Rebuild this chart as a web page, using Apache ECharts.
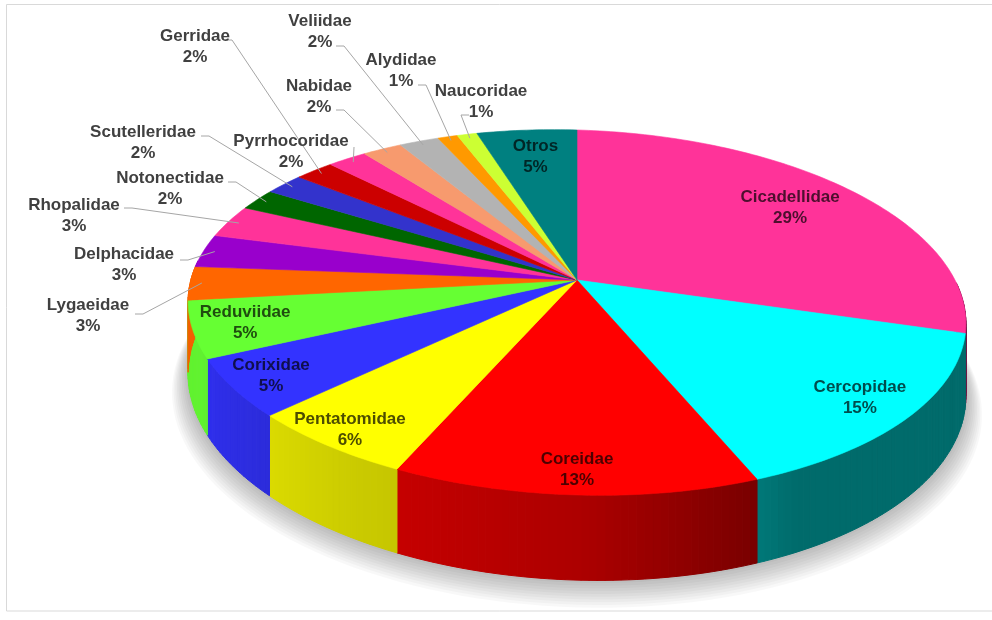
<!DOCTYPE html>
<html>
<head>
<meta charset="utf-8">
<script src="https://cdn.jsdelivr.net/npm/echarts@6/dist/echarts.min.js"></script>
<style>
  html, body { margin: 0; padding: 0; background: #ffffff; }
  #chart { width: 992px; height: 620px; }
</style>
</head>
<body>
<div id="chart"></div>
<script>
// Families of Hemiptera collected, share of the total (%)
const families = ['Cicadellidae', 'Cercopidae', 'Coreidae', 'Pentatomidae', 'Corixidae', 'Reduviidae',
  'Lygaeidae', 'Delphacidae', 'Rhopalidae', 'Notonectidae', 'Scutelleridae', 'Gerridae',
  'Pyrrhocoridae', 'Nabidae', 'Veliidae', 'Alydidae', 'Naucoridae', 'Otros'];
const shares = [29, 15, 13, 6, 5, 5, 3, 3, 3, 2, 2, 2, 2, 2, 2, 1, 1, 5];
const sliceColors = ['#FF3399', '#00FFFF', '#FF0000', '#FFFF00', '#3333FF', '#66FF33',
  '#FF6600', '#9900CC', '#FF3399', '#006600', '#3333CC', '#CC0000',
  '#FF3399', '#F79A6E', '#B3B3B3', '#FF9900', '#CCFF33', '#008080'];

// Labels drawn on the slice: radial position (fraction of the radius)
const insideLabelRadius = {
  Cicadellidae: 0.77, Cercopidae: 0.87, Coreidae: 0.9, Pentatomidae: 0.92,
  Corixidae: 0.9, Reduviidae: 0.87, Otros: 0.8
};
// Labels drawn outside the pie: label centre, leader start, short horizontal elbow
const outsideLabelLayout = {
  Lygaeidae:     { at: [88, 316],  from: [135, 314], dx: 8 },
  Delphacidae:   { at: [124, 265], from: [180, 260], dx: 8 },
  Rhopalidae:    { at: [74, 216],  from: [124, 208], dx: 8 },
  Notonectidae:  { at: [170, 189], from: [228, 182], dx: 8 },
  Scutelleridae: { at: [143, 143], from: [201, 136], dx: 8 },
  Gerridae:      { at: [195, 47],  from: [225, 40],  dx: 7 },
  Pyrrhocoridae: { at: [291, 152], from: [354, 147], dx: 0 },
  Nabidae:       { at: [319, 97],  from: [336, 110], dx: 8 },
  Veliidae:      { at: [320, 32],  from: [336, 46],  dx: 8 },
  Alydidae:      { at: [401, 71],  from: [418, 85],  dx: 8 },
  Naucoridae:    { at: [481, 102], from: [469, 115], dx: -8 }
};

// Projection of the tilted disc (perspective view from above, slight roll)
const pie = { cx: 577, cy: 280, rx: 382.7, ry: 176.7, persp: 0.178, tilt: 0.028, depth: 70 };
const total = shares.reduce((s, v) => s + v, 0);
const FONT = 'bold 17px "Liberation Sans", Arial, sans-serif';

function project(theta, r, down) {
  const u = r * Math.sin(theta);
  const v = -r * Math.cos(theta);
  const w = 1 - pie.persp * v;
  const x = pie.cx + pie.rx * u / w;
  let y = pie.cy + pie.ry * v / w + pie.tilt * (x - pie.cx);
  if (down) y += pie.depth / w;
  return [x, y];
}

function rgbOf(hex) {
  const n = parseInt(hex.slice(1), 16);
  return [(n >> 16) & 255, (n >> 8) & 255, n & 255];
}
function shade(hex, f) {
  const c = rgbOf(hex).map(ch => Math.max(0, Math.min(255, Math.round(ch * f))));
  return 'rgb(' + c.join(',') + ')';
}
// Side walls: lit from the front-left, falling off quickly towards the right
function wallFactor(theta) {
  const deg = theta * 180 / Math.PI;
  const f = deg >= 180 ? 0.68 + (deg - 180) * 0.004 : 0.68 - (180 - deg) * 0.009;
  return Math.max(0.42, Math.min(0.95, f));
}

function renderSlice(params, api) {
  const i = params.dataIndex;
  const value = api.value(0);
  let before = 0;
  for (let k = 0; k < i; k++) before += shares[k];
  const a0 = before / total * Math.PI * 2;
  const a1 = (before + value) / total * Math.PI * 2;
  const color = sliceColors[i];
  const name = families[i];
  const steps = Math.max(3, Math.ceil((a1 - a0) / (Math.PI / 180)));
  const children = [];

  // soft grey shadow under the cylinder: stacked translucent rings (drawn once)
  if (i === 0) {
    for (let k = 1; k <= 10; k++) {
      const ring = [];
      for (let j = 0; j <= 360; j += 2) {
        const p = project(j * Math.PI / 180, 1 + k * 0.004, true);
        ring.push([p[0], p[1] + k * 1.6]);
      }
      children.push({
        type: 'polygon', z2: 0, shape: { points: ring },
        style: { fill: 'rgba(0,0,0,0.028)' }
      });
    }
  }

  // outer wall, built in thin strips so shading follows the curve
  for (let j = 0; j < steps; j++) {
    const t0 = a0 + (a1 - a0) * j / steps;
    const t1 = a0 + (a1 - a0) * (j + 1) / steps;
    const tm = (t0 + t1) / 2;
    if (-Math.cos(tm) < -0.05) continue;
    const c = shade(color, wallFactor(tm));
    children.push({
      type: 'polygon', z2: 2,
      shape: { points: [project(t0, 1, false), project(t1, 1, false), project(t1, 1, true), project(t0, 1, true)] },
      style: { fill: c, stroke: c, lineWidth: 1 }
    });
  }

  // top face
  const top = [[pie.cx, pie.cy]];
  for (let j = 0; j <= steps; j++) top.push(project(a0 + (a1 - a0) * j / steps, 1, false));
  children.push({
    type: 'polygon', z2: 10, shape: { points: top },
    style: { fill: color, stroke: color, lineWidth: 0.6 }
  });

  const mid = (a0 + a1) / 2;
  const text = name + '\n' + value + '%';
  if (insideLabelRadius[name] !== undefined) {
    const p = project(mid, insideLabelRadius[name], false);
    children.push({
      type: 'text', z2: 30, x: p[0], y: p[1],
      style: {
        text: text, font: FONT, fill: shade(color, 0.3),
        align: 'center', verticalAlign: 'middle', textAlign: 'center', textVerticalAlign: 'middle',
        lineHeight: 21
      }
    });
  } else if (outsideLabelLayout[name]) {
    const lay = outsideLabelLayout[name];
    const anchor = project(mid, 0.97, false);
    const pts = [lay.from];
    if (lay.dx) pts.push([lay.from[0] + lay.dx, lay.from[1]]);
    pts.push(anchor);
    children.push({
      type: 'polyline', z2: 25, shape: { points: pts },
      style: { stroke: '#a6a6a6', lineWidth: 1, fill: null }
    });
    children.push({
      type: 'text', z2: 30, x: lay.at[0], y: lay.at[1],
      style: {
        text: text, font: FONT, fill: '#404040',
        align: 'center', verticalAlign: 'middle', textAlign: 'center', textVerticalAlign: 'middle',
        lineHeight: 21
      }
    });
  }
  return { type: 'group', children: children };
}

const chart = echarts.init(document.getElementById('chart'), null, { renderer: 'canvas' });
chart.setOption({
  animation: false,
  backgroundColor: '#ffffff',
  graphic: [{
    type: 'rect', silent: true, z: -1,
    shape: { x: 6.5, y: 4.5, width: 992, height: 606.5 },
    style: { fill: null, stroke: '#d9d9d9', lineWidth: 1 }
  }],
  series: [{
    type: 'custom',
    coordinateSystem: 'none',
    silent: true,
    renderItem: renderSlice,
    data: shares.map((v, i) => ({ name: families[i], value: [v] }))
  }]
});
</script>
</body>
</html>
